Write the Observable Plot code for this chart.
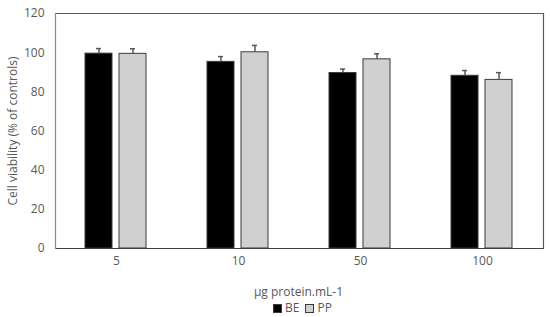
<!DOCTYPE html>
<html>
<head>
<meta charset="utf-8">
<script src="https://cdn.jsdelivr.net/npm/d3@7"></script>
<script src="https://cdn.jsdelivr.net/npm/@observablehq/plot@0.6"></script>
<style>
  body { margin: 0; background: #fff; font-family: "Open Sans", sans-serif; }
  #wrap { width: 550px; }
  .xlab { text-align: center; color: #595959; font-size: 12px; margin-left: 54px; margin-right: 7px; height: 17px; line-height: 17px; margin-top: 3px; }
  .legend { text-align: center; color: #595959; font-size: 12px; margin-left: 62px; margin-right: 7px; height: 15px; line-height: 15px; }
  .sw { display: inline-block; width: 9px; height: 9px; vertical-align: -1px; margin-right: 3px; box-sizing: border-box; }
  .item { margin: 0 3px; }
</style>
</head>
<body>
<div id="wrap">
  <div id="chart"></div>
  <div class="xlab">µg protein.mL-1</div>
  <div class="legend" id="legend"></div>
</div>
<script>
const groups = ["5", "10", "50", "100"];
const series = ["BE", "PP"];
const BE = [99.5, 95.3, 89.6, 88.2];
const PP = [99.4, 100.2, 96.6, 86.1];
const BE_err = [2.6, 2.7, 2.0, 2.7];
const PP_err = [2.6, 3.5, 2.8, 3.7];
const colors = ["#000000", "#d0d0d0"];
const yTicks = [0, 20, 40, 60, 80, 100, 120];

const data = [];
groups.forEach((g, i) => {
  data.push({group: g, series: "BE", value: BE[i], err: BE_err[i]});
  data.push({group: g, series: "PP", value: PP[i], err: PP_err[i]});
});
data.forEach(d => d.hi = d.value + d.err);

const chart = Plot.plot({
  width: 550,
  height: 280,
  marginLeft: 54,
  marginRight: 7,
  marginTop: 13,
  marginBottom: 32,
  style: {fontFamily: "Open Sans, sans-serif", fontSize: "12px", color: "#595959"},
  fx: {domain: groups, padding: 0, label: null, tickSize: 0, tickPadding: 8},
  x: {domain: series, paddingInner: 0.2, paddingOuter: 0.86, axis: null},
  y: {domain: [0, 120], ticks: yTicks, tickSize: 0, tickPadding: 11, label: "Cell viability (% of controls)", labelAnchor: "center", labelArrow: "none", labelOffset: 47},
  color: {domain: series, range: colors},
  marks: [
    Plot.barY(data, {fx: "group", x: "series", y: "value", fill: "series", stroke: "#3a3a3a", strokeWidth: 1}),
    Plot.ruleX(data, {fx: "group", x: "series", y1: "value", y2: "hi", stroke: "#595959", strokeWidth: 1.5}),
    Plot.tickY(data, {fx: "group", x: "series", y: "hi", stroke: "#595959", strokeWidth: 1.5, insetLeft: 11, insetRight: 11}),
    Plot.ruleY([0], {stroke: "#404040", strokeWidth: 1.2}),
    Plot.ruleY([120], {stroke: "#595959", strokeWidth: 1.2}),
    Plot.frame({anchor: "left", facetAnchor: "left", stroke: "#8a8a8a", strokeWidth: 1.2}),
    Plot.frame({anchor: "right", facetAnchor: "right", stroke: "#595959", strokeWidth: 1.2})
  ]
});
document.getElementById("chart").appendChild(chart);

const legend = document.getElementById("legend");
series.forEach((s, i) => {
  const span = document.createElement("span");
  span.className = "item";
  const sw = document.createElement("span");
  sw.className = "sw";
  sw.style.background = colors[i];
  sw.style.border = "1px solid #3a3a3a";
  span.appendChild(sw);
  span.appendChild(document.createTextNode(s));
  legend.appendChild(span);
});
</script>
</body>
</html>
